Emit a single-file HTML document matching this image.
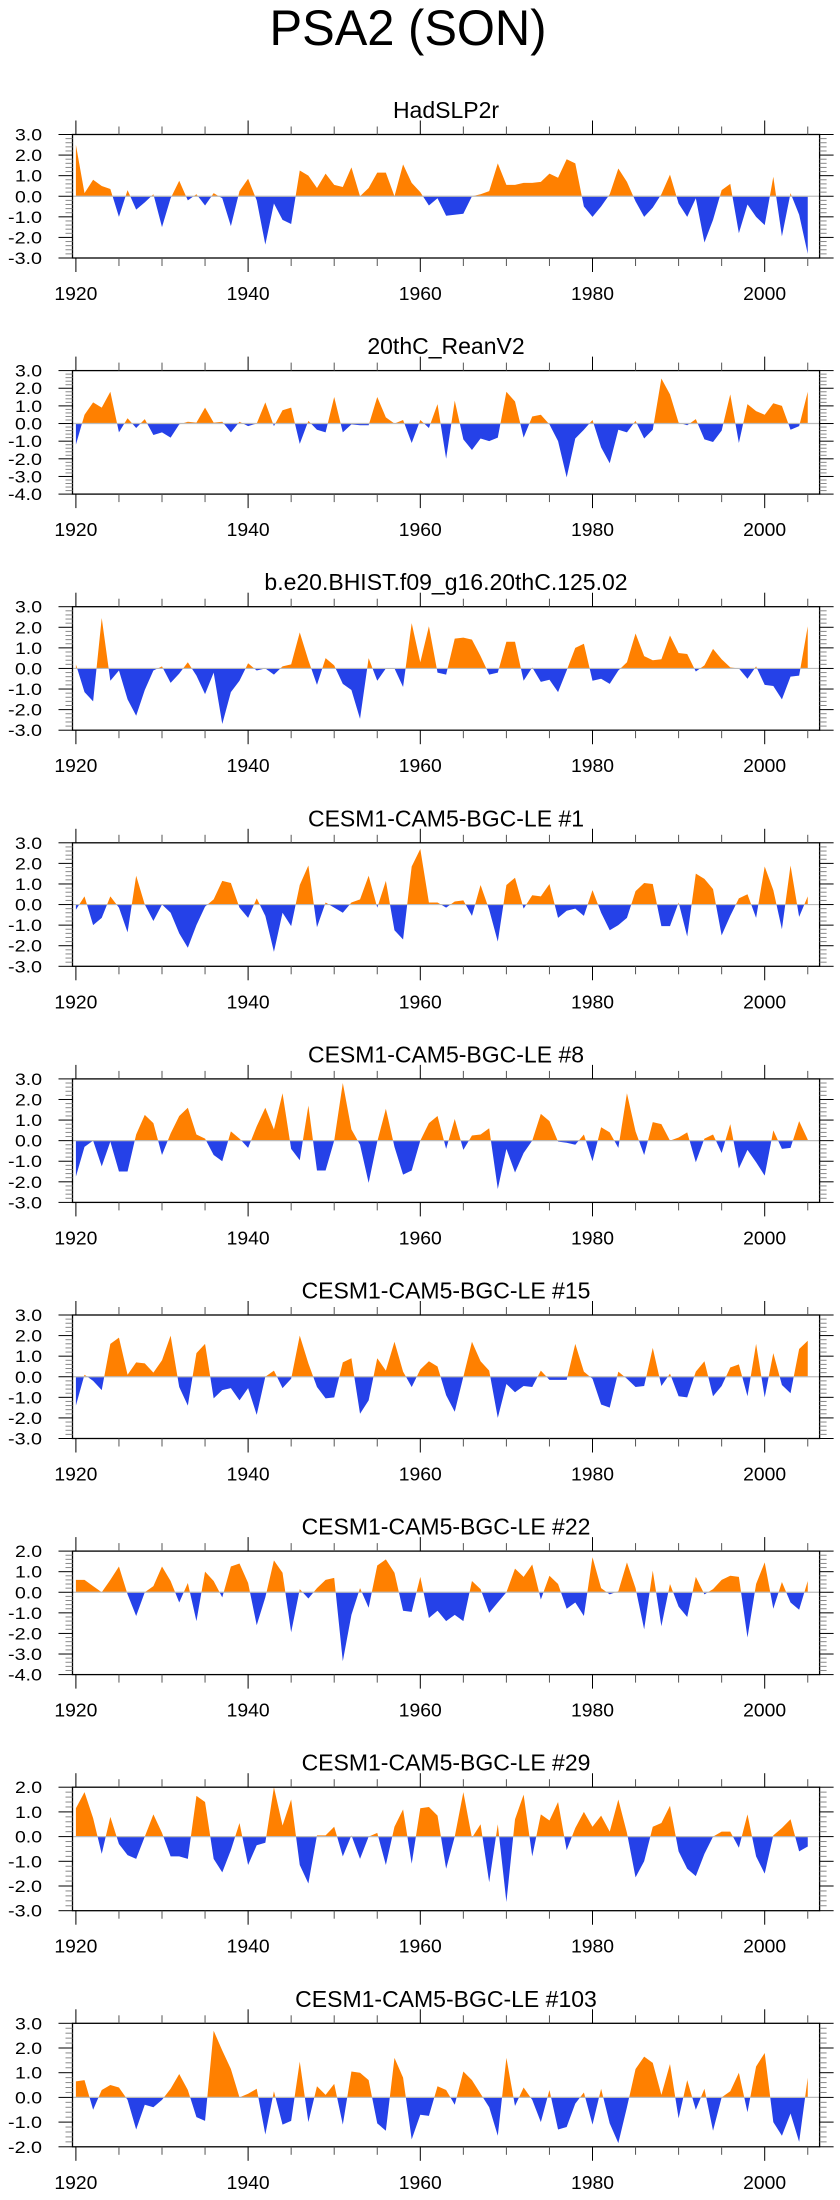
<!DOCTYPE html>
<html><head><meta charset="utf-8"><style>
html,body{margin:0;padding:0;background:#fff}
svg{display:block}
text{font-family:"Liberation Sans",sans-serif;fill:#000}
</style></head><body>
<svg id="chart" width="840" height="2200" xmlns="http://www.w3.org/2000/svg">
<text x="408" y="45" font-size="50" text-anchor="middle" textLength="277" lengthAdjust="spacingAndGlyphs">PSA2 (SON)</text>
</svg>
<script>
const titles = ["HadSLP2r","20thC_ReanV2","b.e20.BHIST.f09_g16.20thC.125.02","CESM1-CAM5-BGC-LE #1","CESM1-CAM5-BGC-LE #8","CESM1-CAM5-BGC-LE #15","CESM1-CAM5-BGC-LE #22","CESM1-CAM5-BGC-LE #29","CESM1-CAM5-BGC-LE #103"];
const yMins = [-3,-4,-3,-3,-3,-3,-4,-3,-2];
const yMaxs = [3,3,3,3,3,3,2,2,3];
const startYear = 1920;
const xTickYears = [1920,1940,1960,1980,2000];
const s1 = [2.5,0.15,0.8,0.5,0.35,-1.0,0.3,-0.65,-0.3,0.1,-1.5,-0.1,0.75,-0.2,0.1,-0.45,0.15,-0.1,-1.45,0.25,0.85,-0.2,-2.35,-0.35,-1.15,-1.35,1.25,1.0,0.4,1.1,0.55,0.45,1.4,0.0,0.4,1.15,1.15,0.0,1.55,0.65,0.2,-0.45,-0.1,-0.95,-0.9,-0.85,0.0,0.1,0.25,1.6,0.55,0.55,0.65,0.65,0.7,1.1,0.9,1.8,1.6,-0.5,-1.0,-0.5,0.1,1.35,0.7,-0.25,-1.0,-0.55,0.1,1.05,-0.35,-1.0,-0.1,-2.25,-1.15,0.3,0.6,-1.8,-0.4,-1.0,-1.4,0.95,-1.95,0.15,-0.9,-2.8];
const s2 = [-1.2,0.5,1.2,0.9,1.8,-0.5,0.3,-0.25,0.25,-0.65,-0.5,-0.8,-0.05,0.1,0.05,0.9,0.05,0.1,-0.5,0.1,-0.15,0.0,1.2,-0.15,0.75,0.9,-1.15,0.15,-0.35,-0.5,1.5,-0.5,-0.05,-0.1,-0.1,1.5,0.35,0,0.2,-1.1,0.2,-0.25,1.1,-2.0,1.3,-0.9,-1.5,-0.85,-1.0,-0.8,1.8,1.25,-0.8,0.4,0.5,-0.05,-1.0,-3.05,-0.85,-0.35,0.2,-1.35,-2.25,-0.35,-0.5,0.15,-0.85,-0.35,2.55,1.65,0.05,-0.1,0.25,-0.9,-1.05,-0.4,1.65,-1.1,1.1,0.7,0.5,1.15,1.0,-0.35,-0.15,1.8];
const s3 = [0.2,-1.15,-1.6,2.45,-0.6,-0.1,-1.5,-2.3,-1.05,-0.1,0.1,-0.7,-0.25,0.3,-0.35,-1.25,-0.2,-2.7,-1.15,-0.6,0.25,-0.1,0.0,-0.3,0.1,0.2,1.75,0.4,-0.8,0.5,0.15,-0.75,-1.05,-2.45,0.5,-0.6,0.0,0.0,-0.9,2.2,0.3,2.05,-0.2,-0.3,1.45,1.5,1.4,0.6,-0.3,-0.2,1.3,1.3,-0.6,0.05,-0.65,-0.55,-1.15,-0.1,1.0,1.2,-0.6,-0.5,-0.75,-0.1,0.3,1.7,0.6,0.4,0.45,1.6,0.75,0.7,-0.15,0.15,0.95,0.45,0.05,0,-0.5,0.1,-0.8,-0.85,-1.5,-0.4,-0.35,2.05];
const s4 = [-0.25,0.4,-1.0,-0.65,0.4,-0.15,-1.35,1.4,0.0,-0.8,0,-0.4,-1.4,-2.1,-1.0,-0.1,0.25,1.15,1.05,-0.15,-0.65,0.3,-0.55,-2.3,-0.4,-1.05,0.95,1.9,-1.1,0.1,-0.15,-0.4,0.1,0.25,1.4,-0.15,1.15,-1.25,-1.7,1.85,2.7,0.1,0.1,-0.15,0.15,0.2,-0.55,0.95,-0.25,-1.8,0.95,1.3,-0.2,0.45,0.4,1.0,-0.65,-0.3,-0.2,-0.55,0.7,-0.4,-1.25,-1.0,-0.65,0.65,1.05,1.0,-1.05,-1.05,0.1,-1.55,1.5,1.25,0.75,-1.5,-0.55,0.3,0.5,-0.65,1.85,0.7,-1.2,1.9,-0.6,0.4];
const s5 = [-1.75,-0.3,0.0,-1.25,-0.05,-1.5,-1.5,0.3,1.25,0.85,-0.7,0.35,1.2,1.6,0.3,0.1,-0.7,-1.0,0.45,0.1,-0.35,0.7,1.6,0.55,2.3,-0.4,-0.95,1.7,-1.45,-1.45,0.0,2.8,0.55,-0.2,-2.05,-0.05,1.55,-0.3,-1.65,-1.45,0,0.85,1.2,-0.4,1.05,-0.45,0.25,0.3,0.6,-2.35,-0.4,-1.55,-0.6,0,1.3,0.95,-0.05,-0.1,-0.2,0.3,-1.0,0.65,0.4,-0.35,2.3,0.45,-0.7,0.9,0.8,0,0.15,0.4,-1.05,0.1,0.3,-0.6,0.8,-1.35,-0.45,-1.05,-1.7,0.5,-0.4,-0.35,0.95,0.05];
const s6 = [-1.4,0.1,-0.2,-0.65,1.6,1.9,0.1,0.7,0.65,0.2,0.8,2.0,-0.5,-1.4,1.15,1.6,-1.05,-0.65,-0.55,-1.15,-0.55,-1.85,0,0.3,-0.55,-0.1,2.0,0.65,-0.5,-1.05,-1.0,0.7,0.9,-1.8,-1.15,0.9,0.3,1.7,0.25,-0.5,0.35,0.75,0.5,-0.9,-1.7,0.0,1.7,0.75,0.3,-2.0,-0.35,-0.75,-0.45,-0.5,0.3,-0.15,-0.15,-0.15,1.6,0.25,-0.1,-1.35,-1.5,0.25,-0.1,-0.5,-0.45,1.4,-0.45,0.15,-0.95,-1.0,0.25,0.75,-0.95,-0.45,0.45,0.6,-0.95,1.6,-1.0,1.15,-0.4,-0.8,1.35,1.75];
const s7 = [0.6,0.6,0.3,0.0,0.6,1.25,-0.1,-1.15,0,0.3,1.25,0.55,-0.5,0.45,-1.4,1.0,0.55,-0.25,1.25,1.4,0.45,-1.6,-0.25,1.55,0.95,-1.95,0.15,-0.3,0.2,0.6,0.7,-3.35,-1.1,0.2,-0.75,1.3,1.6,0.95,-0.9,-0.95,0.75,-1.25,-0.9,-1.4,-1.1,-1.4,0.55,0.15,-1.0,-0.5,0,1.15,0.75,1.35,-0.35,0.8,0.4,-0.8,-0.5,-1.15,1.7,0.2,-0.1,0.05,1.45,0.2,-1.8,1.05,-1.65,0.4,-0.7,-1.2,0.75,-0.1,0.15,0.6,0.8,0.75,-2.2,0.4,1.45,-0.8,0.5,-0.5,-0.85,0.55];
const s8 = [1.15,1.8,0.75,-0.7,0.8,-0.3,-0.75,-0.9,0.0,0.9,0.15,-0.8,-0.8,-0.9,1.65,1.4,-0.9,-1.45,-0.55,0.55,-1.15,-0.35,-0.25,2.0,0.45,1.5,-1.15,-1.9,0.05,0.05,0.4,-0.8,0.05,-0.9,0,0.15,-1.15,0.4,1.1,-1.1,1.15,1.2,0.85,-1.3,0,1.8,-0.05,0.5,-1.85,0.5,-2.65,0.7,1.7,-0.8,0.9,0.65,1.4,-0.55,0.35,1.0,0.4,0.85,0.2,1.5,0.15,-1.65,-1.0,0.4,0.55,1.25,-0.6,-1.3,-1.6,-0.7,0.0,0.2,0.2,-0.45,0.9,-0.8,-1.5,0.05,0.35,0.7,-0.6,-0.4];
const s9 = [0.65,0.7,-0.5,0.3,0.5,0.4,-0.1,-1.3,-0.3,-0.4,-0.1,0.35,0.95,0.3,-0.8,-0.95,2.7,1.9,1.15,0.0,0.15,0.35,-1.5,0.25,-1.1,-0.95,1.45,-1.0,0.45,0.1,0.55,-1.1,1.05,1.0,0.7,-1.05,-1.35,1.6,0.8,-1.7,-0.7,-0.75,0.45,0.3,-0.3,1.05,0.7,0.15,-0.4,-1.55,1.6,-0.35,0.4,-0.1,-1.0,0.3,-1.3,-1.2,-0.25,0.2,-1.1,0.35,-1.05,-1.85,-0.4,1.15,1.65,1.4,0.1,1.35,-0.85,0.7,-0.5,0.35,-1.35,0.0,0.25,1.0,-0.6,1.25,1.8,-1.0,-1.55,-0.65,-1.8,0.8];
const seriesList = [s1,s2,s3,s4,s5,s6,s7,s8,s9];

const NS = "http://www.w3.org/2000/svg";
const svg = document.getElementById('chart');
const L = 72.5, R = 819.6, H = 123.5;
const X0 = 75.9, XPY = 8.61;
function mk(tag, attrs, parent){const e=document.createElementNS(NS,tag);for(const k in attrs)e.setAttribute(k,attrs[k]);(parent||svg).appendChild(e);return e;}
function xs(year){return X0 + (year-1920)*XPY;}

seriesList.forEach((vals, p) => {
  const top = 134.5 + 236.1*p, bot = top + H;
  const ymin = yMins[p], ymax = yMaxs[p];
  const ys = v => bot - (v - ymin)/(ymax - ymin)*H;
  const g = mk('g', {});
  
  
  const t = mk('text', {x:446, y:top-16.5, 'font-size':23, 'text-anchor':'middle'}, g);
  
  
  t.textContent = titles[p];
  const z = ys(0);
  const cidA = 'ca'+p, cidB = 'cb'+p;
  const defs = mk('defs', {}, g);
  const ca = mk('clipPath', {id:cidA}, defs); mk('rect', {x:L, y:top, width:R-L, height:z-top}, ca);
  const cb = mk('clipPath', {id:cidB}, defs); mk('rect', {x:L, y:z, width:R-L, height:bot-z}, cb);
  let d = 'M' + xs(startYear).toFixed(2) + ',' + z.toFixed(2);
  vals.forEach((v,i) => { d += ' L' + xs(startYear+i).toFixed(2) + ',' + ys(v).toFixed(2); });
  d += ' L' + xs(startYear+vals.length-1).toFixed(2) + ',' + z.toFixed(2) + ' Z';
  const pa = mk('path', {d:d, fill:'#ff8000', 'clip-path':'url(#'+cidA+')'}, g);
  
  
  const pb = mk('path', {d:d, fill:'#2541e8', 'clip-path':'url(#'+cidB+')'}, g);
  
  
  const zl = mk('line', {x1:L, x2:R, y1:z, y2:z, stroke:'#bbb', 'stroke-width':1.2}, g);
  
  
  const fr = mk('rect', {x:L, y:top, width:R-L, height:H, fill:'none', stroke:'#000', 'stroke-width':1.3}, g);
  
  
  // x ticks
  for (let yr=1920; yr<=2005; yr+=5) {
    const x = xs(yr), maj = (yr%20===0), len = maj?14:8, col = maj?'#000':'#555';
    mk('line', {x1:x, x2:x, y1:top, y2:top-len, stroke:col, 'stroke-width':1}, g);
    mk('line', {x1:x, x2:x, y1:bot, y2:bot+len, stroke:col, 'stroke-width':1}, g);
  }
  xTickYears.forEach(yr => {
    const tl = mk('text', {x:xs(yr), y:bot+42, 'font-size':18, 'text-anchor':'middle', textLength:43, lengthAdjust:'spacingAndGlyphs'}, g);
    
    
    tl.textContent = yr;
  });
  // y ticks
  for (let k = Math.round(ymin*5); k <= Math.round(ymax*5); k++) {
    const v = k/5, y = ys(v), maj = (k%5===0), len = maj?14:7, col = maj?'#000':'#888';
    mk('line', {x1:L, x2:L-len, y1:y, y2:y, stroke:col, 'stroke-width':1}, g);
    mk('line', {x1:R, x2:R+len, y1:y, y2:y, stroke:col, 'stroke-width':1}, g);
    if (maj) {
      const s = v.toFixed(1);
      const tl = mk('text', {x:42, y:y+6, 'font-size':17, 'text-anchor':'end', textLength:(s.length===4?34:27), lengthAdjust:'spacingAndGlyphs'}, g);
      
      
      tl.textContent = s;
    }
  }
});
</script>
</body></html>
